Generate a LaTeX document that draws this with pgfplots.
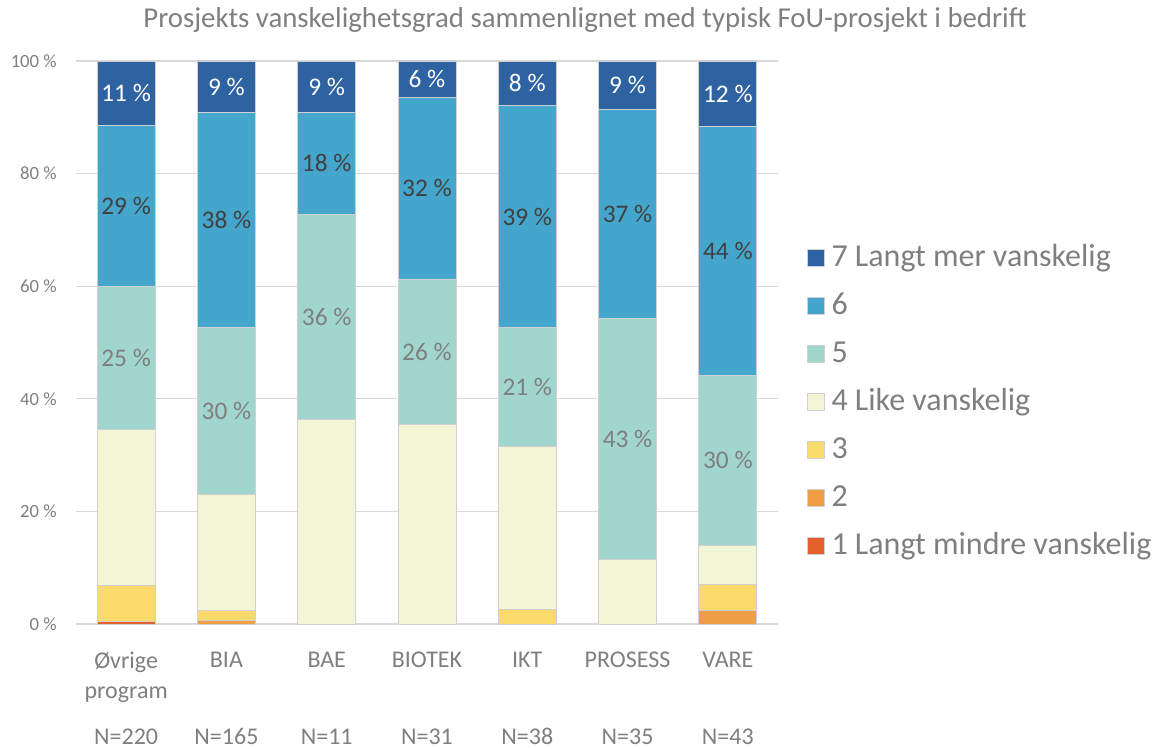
\documentclass[border=0pt]{standalone}
\usepackage{pgfplots}
\pgfplotsset{compat=1.18}
\usepackage{fontspec}
\setmainfont{Carlito}
\definecolor{c7}{HTML}{2E62A1}
\definecolor{c6}{HTML}{44A6CC}
\definecolor{c5}{HTML}{A1D6CE}
\definecolor{c4}{HTML}{F2F6D7}
\definecolor{c3}{HTML}{F9DA6A}
\definecolor{c2}{HTML}{F09E46}
\definecolor{c1}{HTML}{E4602A}
\definecolor{txt}{HTML}{7F7F7F}
\definecolor{dark}{HTML}{404040}
\definecolor{gridc}{HTML}{D9D9D9}
\definecolor{edge}{HTML}{D0D0D0}
\pgfplotsset{
  centered labels/.style={
    nodes near coords={\pgfmathprintnumber[fixed,precision=0]{\pgfplotspointmeta}\ \%},
    every node near coord/.append style={
      font=\fontsize{19}{21}\selectfont,
      text=#1
    },
    nodes near coords align=center
  }
}
\begin{document}
\begin{tikzpicture}
\path[use as bounding box] (-57pt,-93.75pt) rectangle (815.25pt,468pt);
\begin{axis}[
  at={(0,0)}, anchor=south west,
  width=526.5pt, height=422.25pt, scale only axis,
  ybar stacked, bar width=43.5pt,
  xmin=-0.5, xmax=6.5, ymin=0, ymax=100,
  xtick={0,...,6},
  xticklabels={{Øvrige\\program},BIA,BAE,BIOTEK,IKT,PROSESS,VARE},
  extra x ticks={0,...,6},
  extra x tick labels={N=220,N=165,N=11,N=31,N=38,N=35,N=43},
  extra x tick style={major tick length=0pt, grid=none, tick label style={yshift=-57pt, text height=12pt, text depth=0pt}},
  x tick label style={font=\fontsize{18}{22.5}\selectfont, text=txt, align=center, anchor=north, inner sep=0pt, yshift=-21pt},
  ytick={0,20,...,100},
  yticklabel={\pgfmathprintnumber{\tick}\ \%},
  /pgf/number format/assume math mode=true,
  y tick label style={font=\fontsize{14}{16}\selectfont, text=txt, anchor=east, inner sep=0pt, xshift=-14.25pt},
  axis x line*=bottom, axis y line*=left,
  y axis line style={draw=none},
  x axis line style={draw=gridc, line width=0.9pt},
  major tick length=0pt,
  ymajorgrids, grid style={draw=gridc, line width=0.9pt},
  title={Prosjekts vanskelighetsgrad sammenlignet med typisk FoU-prosjekt i bedrift},
  title style={font=\fontsize{21.6}{24}\selectfont, text=txt, at={(axis description cs:0.725,1.0586)}, anchor=center},
  legend style={draw=none, fill=none, at={(axis description cs:1.041,0.394)}, anchor=west,
    font=\fontsize{24}{26}\selectfont, text=txt, inner sep=0pt, row sep=12pt,
    nodes={inner sep=1pt, text height=17pt, text depth=5pt}},
  legend cell align=left,
  reverse legend,
  legend image code/.code={\draw[#1] (0pt,-6.4pt) rectangle (12.75pt,6.4pt);},
  /tikz/every odd column/.append style={column sep=4pt},
  every axis plot/.append style={draw=edge, line width=0.6pt},
]
\addplot[fill=c1] coordinates {(0,0.45) (1,0) (2,0) (3,0) (4,0) (5,0) (6,0)};
\addplot[fill=c2] coordinates {(0,0) (1,0.61) (2,0) (3,0) (4,0) (5,0) (6,2.33)};
\addplot[fill=c3] coordinates {(0,6.36) (1,1.82) (2,0) (3,0) (4,2.63) (5,0) (6,4.65)};
\addplot[fill=c4] coordinates {(0,27.73) (1,20.61) (2,36.36) (3,35.48) (4,28.95) (5,11.43) (6,6.98)};
\addplot[fill=c5, centered labels=txt] coordinates {(0,25.45) (1,29.70) (2,36.36) (3,25.81) (4,21.05) (5,42.86) (6,30.23)};
\addplot[fill=c6, centered labels=dark] coordinates {(0,28.64) (1,38.17) (2,18.18) (3,32.26) (4,39.47) (5,37.14) (6,44.18)};
\addplot[fill=c7, centered labels=white] coordinates {(0,11.36) (1,9.09) (2,9.09) (3,6.45) (4,7.89) (5,8.57) (6,11.63)};
\legend{1 Langt mindre vanskelig,2,3,4 Like vanskelig,5,6,7 Langt mer vanskelig}
\end{axis}
\end{tikzpicture}
\end{document}
